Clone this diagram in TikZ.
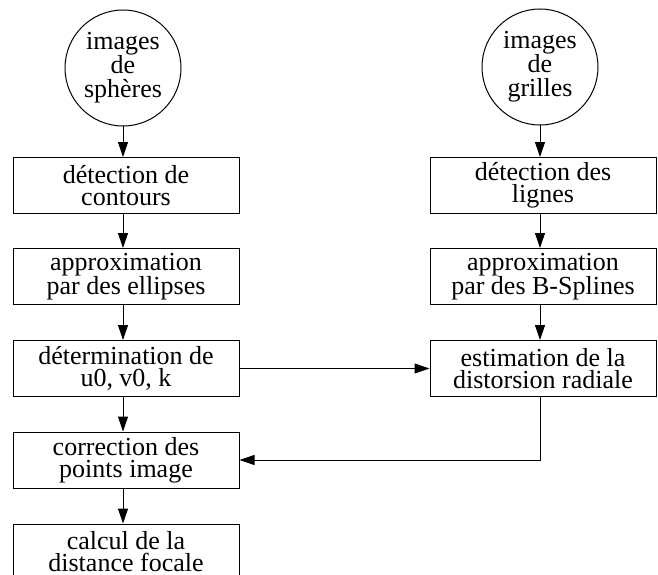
\documentclass[tikz,border=0pt]{standalone}
\usepackage{fontspec}
\setmainfont{Liberation Serif}
\usetikzlibrary{arrows.meta}
\begin{document}
\begin{tikzpicture}[x=1pt,y=-1pt,
 box/.style={draw, line width=1pt, minimum width=226pt, minimum height=56pt, align=center, inner sep=0pt, font=\fontsize{26}{22}\selectfont},
 blob/.style={draw, circle, line width=1pt, minimum size=116pt, inner sep=0pt, align=center, font=\fontsize{26}{24}\selectfont},
 arr/.style={line width=1pt, -{Triangle[length=15pt,width=10pt]}}]
\useasboundingbox (0,0) rectangle (658,575);
\node[blob] (c1) at (123,68) {images\\de\\sphères};
\node[blob] (c2) at (540,67) {images\\de\\grilles};
\node[box] (l1) at (126,185.5) {détection de\\contours};
\node[box] (l2) at (126,276.5) {approximation\\par des ellipses};
\node[box] (l3) at (126,368.5) {détermination de\\u0, v0, k};
\node[box] (l4) at (126,460) {correction des\\points image};
\node[box] (l5) at (126,552) {calcul de la\\distance focale};
\node[box] (r1) at (543,185.5) {détection des\\lignes};
\node[box] (r2) at (543,276.5) {approximation\\par des B-Splines};
\node[box] (r3) at (543,368.5) {estimation de la\\distorsion radiale};
\draw[arr] (c1.south) -- (c1.south |- l1.north);
\draw[arr] (l1.south -| c1) -- (l2.north -| c1);
\draw[arr] (l2.south -| c1) -- (l3.north -| c1);
\draw[arr] (l3.south -| c1) -- (l4.north -| c1);
\draw[arr] (l4.south -| c1) -- (l5.north -| c1);
\draw[arr] (c2.south) -- (c2.south |- r1.north);
\draw[arr] (r1.south -| c2) -- (r2.north -| c2);
\draw[arr] (r2.south -| c2) -- (r3.north -| c2);
\draw[arr] (l3.east) -- (r3.west);
\draw[arr] (r3.south -| c2) |- (l4.east);
\end{tikzpicture}
\end{document}
